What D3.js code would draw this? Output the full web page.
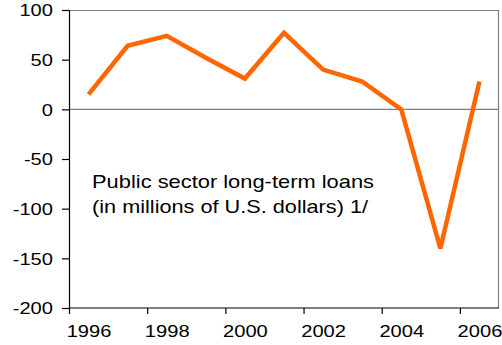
<!DOCTYPE html>
<html>
<head>
<meta charset="utf-8">
<script src="https://cdn.jsdelivr.net/npm/d3@7"></script>
<style>
  html, body { margin: 0; padding: 0; background: #fff; }
  svg { display: block; }
  text { font-family: "Liberation Sans", Arial, sans-serif; fill: #000; }
</style>
</head>
<body>
<svg id="chart" width="502" height="345"></svg>
<script>
const years = [1996, 1997, 1998, 1999, 2000, 2001, 2002, 2003, 2004, 2005, 2006];
const loans = [15, 64, 74, 52, 31, 77, 40, 28, 0, -140, 28];
const xTickYears = [1996, 1998, 2000, 2002, 2004, 2006];
const yTicks = [-200, -150, -100, -50, 0, 50, 100];
const noteLines = ["Public sector long-term loans", "(in millions of U.S. dollars) 1/"];

(function () {
const svg = d3.select("#chart");
const pl = 69, pr = 499, pt = 10, pb = 308;

const x = d3.scaleLinear().domain([1996, 2007]).range([pl, pr]);
const y = d3.scaleLinear().domain([-200, 100]).range([pb, pt]);
const half = (x(1997) - x(1996)) / 2;
const sx = 1.22;

// top and right frame (gray)
svg.append("path")
  .attr("d", `M${pl},${pt + 0.5}H${pr - 0.5}V${pb}`)
  .attr("fill", "none").attr("stroke", "#808080").attr("stroke-width", 1.2);

// zero line
svg.append("line")
  .attr("x1", pl).attr("x2", pr)
  .attr("y1", y(0)).attr("y2", y(0))
  .attr("stroke", "#808080").attr("stroke-width", 1.2);

// Y axis
const yAxis = svg.append("g")
  .attr("transform", `translate(${pl},0)`)
  .call(d3.axisLeft(y).tickValues(yTicks).tickSize(7).tickPadding(0).tickFormat(d => String(d)));
yAxis.select(".domain").attr("stroke", "#000").attr("stroke-width", 1.2);
yAxis.selectAll(".tick line").attr("stroke", "#000").attr("stroke-width", 1.2);
yAxis.selectAll(".tick text")
  .attr("x", null)
  .attr("transform", `translate(-16,0) scale(${sx},1)`)
  .attr("dy", "0.36em")
  .style("font-size", "16.5px")
  .style("font-family", "'Liberation Sans', Arial, sans-serif")
  .attr("fill", "#000");

// X axis
const xAxis = svg.append("g")
  .attr("transform", `translate(0,${pb})`)
  .call(d3.axisBottom(x).tickValues(xTickYears).tickSize(6).tickFormat(d => String(d)));
xAxis.select(".domain").attr("stroke", "#000").attr("stroke-width", 1.2)
  .attr("d", `M${pl},0H${pr}`);
xAxis.selectAll(".tick line").attr("stroke", "#000").attr("stroke-width", 1.2);
xAxis.selectAll(".tick text")
  .attr("y", null).attr("dy", null)
  .attr("transform", `translate(${half},29) scale(${sx},1)`)
  .style("font-size", "16.5px")
  .style("font-family", "'Liberation Sans', Arial, sans-serif")
  .attr("fill", "#000");

// line series
const line = d3.line()
  .x((d, i) => x(years[i] + 0.5))
  .y(d => y(d));
svg.append("path")
  .datum(loans)
  .attr("d", line)
  .attr("fill", "none")
  .attr("stroke", "#FF6600")
  .attr("stroke-width", 4.5)
  .attr("stroke-linejoin", "miter");

// annotation
const note = svg.append("g");
const lineWidths = [282, 276];
noteLines.forEach((t, i) => {
  note.append("text")
    .attr("x", 92).attr("y", 188 + i * 25)
    .attr("textLength", lineWidths[i])
    .attr("lengthAdjust", "spacingAndGlyphs")
    .style("font-size", "18.5px")
    .text(t);
});
})();
</script>
</body>
</html>
